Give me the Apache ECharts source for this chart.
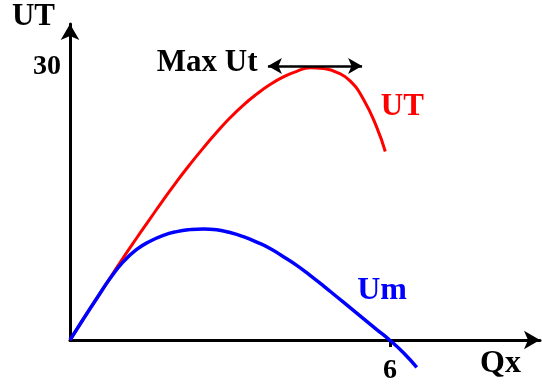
<!DOCTYPE html>
<html>
<head>
<meta charset="utf-8">
<script src="https://cdn.jsdelivr.net/npm/echarts@6/dist/echarts.min.js"></script>
<style>
    html,body{margin:0;padding:0;background:#fff;}
    #chart{width:542px;height:388px;}
</style>
</head>
<body>
<div id="chart"></div>
<script>
    // UT curve (total utility)
    var utX = [0, 0.25, 0.5, 0.75, 1.0, 1.25, 1.5, 1.75, 2.0, 2.25, 2.5, 2.75, 3.0, 3.25, 3.5, 3.75, 4.0, 4.25, 4.5, 4.75, 5.0, 5.25, 5.5, 5.75, 5.91];
    var utY = [0, 2.3, 4.55, 6.8, 9.05, 11.2, 13.3, 15.4, 17.4, 19.3, 21.1, 22.8, 24.4, 25.8, 27.0, 28.05, 28.9, 29.5, 29.9, 29.8, 29.4, 28.45, 26.45, 23.35, 20.7];
    // Um curve (marginal utility)
    var umX = [0, 0.25, 0.5, 0.75, 1.0, 1.25, 1.5, 1.75, 2.0, 2.25, 2.5, 2.75, 3.0, 3.25, 3.5, 3.75, 4.0, 4.25, 4.5, 4.75, 5.0, 5.25, 5.5, 5.75, 6.0, 6.25, 6.5];
    var umY = [0, 2.3, 4.55, 6.75, 8.6, 9.95, 10.85, 11.5, 11.9, 12.12, 12.2, 12.1, 11.8, 11.35, 10.75, 10.05, 9.15, 8.2, 7.1, 5.95, 4.75, 3.55, 2.35, 1.15, -0.05, -1.4, -3.0];
    var yTicks = [30];
    var xTicks = [6];

    var font = '"Liberation Serif", "Times New Roman", serif';

    function pairs(xs, ys){
        var out = [];
        for(var i=0;i<xs.length;i++){ out.push([xs[i], ys[i]]); }
        return out;
    }

    var chart = echarts.init(document.getElementById('chart'));
    var option = {
        animation: false,
        backgroundColor: '#fff',
        grid: { left: 70, right: 2, top: 24, bottom: 48 },
        xAxis: {
            type: 'value',
            min: 0,
            max: 8.81,
            name: 'Qx',
            nameLocation: 'end',
            nameGap: -19,
            nameTextStyle: { fontFamily: font, fontWeight: 'bold', fontSize: 32, color: '#000',
                align: 'right', verticalAlign: 'top', padding: [8, 0, 0, 0] },
            splitLine: { show: false },
            axisLine: { lineStyle: { color: '#000', width: 3 }, symbol: ['none', 'arrow'], symbolSize: [14, 16] },
            axisTick: { customValues: xTicks, length: 7, lineStyle: { color: '#000', width: 3 } },
            axisLabel: { customValues: xTicks, margin: 17, fontFamily: font, fontWeight: 'bold', fontSize: 28, color: '#000' }
        },
        yAxis: {
            type: 'value',
            min: 0,
            max: 34.7,
            name: 'UT',
            nameLocation: 'end',
            nameGap: 7,
            nameTextStyle: { fontFamily: font, fontWeight: 'bold', fontSize: 31, color: '#000',
                align: 'right', verticalAlign: 'middle', padding: [0, 15, 0, 0] },
            splitLine: { show: false },
            axisLine: { lineStyle: { color: '#000', width: 3 }, symbol: ['none', 'arrow'], symbolSize: [14, 16] },
            axisTick: { show: false },
            axisLabel: { customValues: yTicks, margin: 9, fontFamily: font, fontWeight: 'bold', fontSize: 28, color: '#000',
                padding: [0, 0, 6, 0] }
        },
        series: [
            {
                name: 'UT',
                type: 'line',
                smooth: true,
                symbol: 'none',
                clip: false,
                data: pairs(utX, utY),
                lineStyle: { color: '#ff0000', width: 3 },
                markLine: {
                    silent: true,
                    symbol: ['arrow', 'arrow'],
                    symbolSize: [12, 14],
                    lineStyle: { color: '#000', width: 2.5, type: 'solid' },
                    label: { show: false },
                    data: [[{ coord: [3.71, 30.1] }, { coord: [5.475, 30.1] }]]
                },
                markPoint: {
                    silent: true,
                    symbol: 'circle',
                    symbolSize: 0,
                    data: [
                        { coord: [6.23, 25.6], label: { formatter: 'UT', color: '#ff0000' } },
                        { coord: [2.57, 30.4], label: { formatter: 'Max Ut', color: '#000' } }
                    ],
                    label: { show: true, position: 'inside', fontFamily: font, fontWeight: 'bold', fontSize: 31 }
                }
            },
            {
                name: 'Um',
                type: 'line',
                smooth: true,
                symbol: 'none',
                clip: false,
                data: pairs(umX, umY),
                lineStyle: { color: '#0000ff', width: 3.5 },
                markPoint: {
                    silent: true,
                    symbol: 'circle',
                    symbolSize: 0,
                    data: [
                        { coord: [5.85, 5.4], label: { formatter: 'Um', color: '#0000ff' } }
                    ],
                    label: { show: true, position: 'inside', fontFamily: font, fontWeight: 'bold', fontSize: 32 }
                }
            }
        ]
    };
    chart.setOption(option);
</script>
</body>
</html>
